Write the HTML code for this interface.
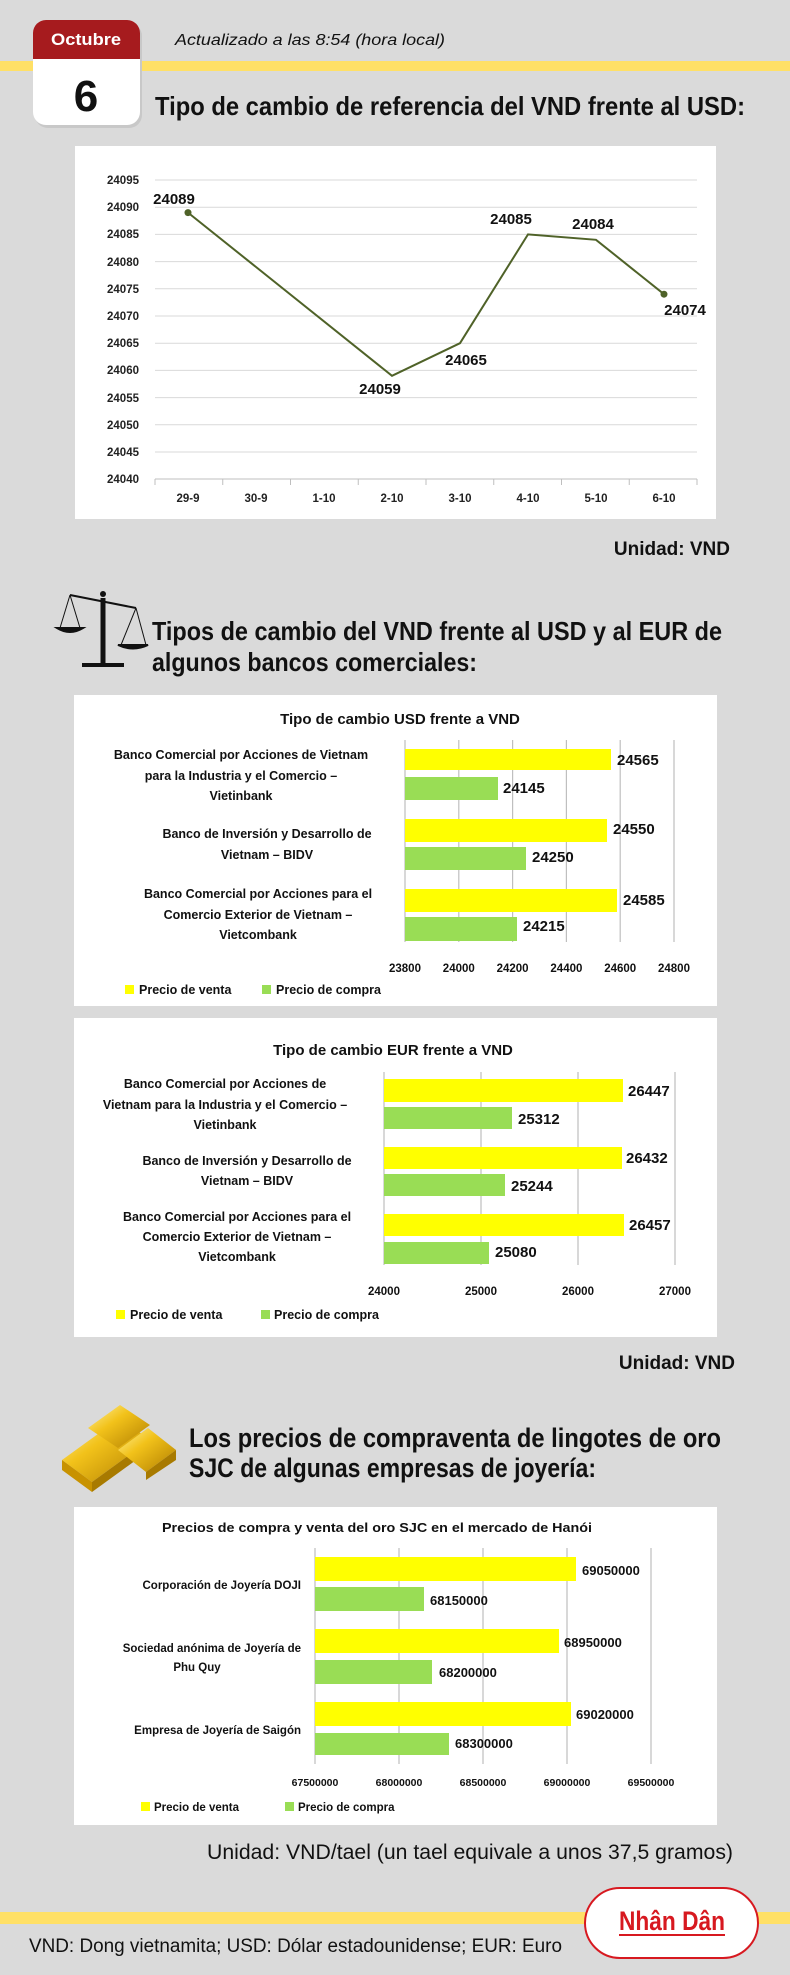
<!DOCTYPE html>
<html><head><meta charset="utf-8"><style>
html,body{margin:0;padding:0;background:#dadada;}
svg{display:block;}
text{font-family:"Liberation Sans",sans-serif;}
</style></head><body>
<svg width="790" height="1975" viewBox="0 0 790 1975" xmlns="http://www.w3.org/2000/svg">
<defs>
<linearGradient id="gold" x1="0" y1="0" x2="1" y2="1">
<stop offset="0" stop-color="#fff2a0"/><stop offset="0.4" stop-color="#f2c21a"/><stop offset="1" stop-color="#b07d00"/></linearGradient>
</defs>
<rect width="790" height="1975" fill="#dadada"/>
<!-- top band -->
<rect x="0" y="61" width="790" height="10" fill="#ffe066"/>
<!-- calendar -->
<rect x="35" y="23" width="107" height="105" rx="13" fill="#c8c8c8"/>
<rect x="33" y="20" width="107" height="105" rx="13" fill="#ffffff"/>
<path d="M33,59 V33 a13,13 0 0 1 13,-13 H127 a13,13 0 0 1 13,13 V59 Z" fill="#a61b1e"/>
<text x="86" y="45" font-size="17" font-weight="bold" fill="#fff" text-anchor="middle" textLength="70" lengthAdjust="spacingAndGlyphs">Octubre</text>
<text x="86" y="111" font-size="44" font-weight="bold" fill="#111" text-anchor="middle">6</text>
<text x="175" y="45" font-size="16" font-style="italic" fill="#111" textLength="270" lengthAdjust="spacingAndGlyphs">Actualizado a las 8:54 (hora local)</text>
<text x="155" y="115" font-size="26" font-weight="bold" fill="#111" textLength="590" lengthAdjust="spacingAndGlyphs">Tipo de cambio de referencia del VND frente al USD:</text>

<!-- line chart -->
<rect x="75" y="146" width="641" height="373" fill="#fff"/>
<g stroke="#d9d9d9" stroke-width="1">
<line x1="155" y1="180" x2="697" y2="180"/><line x1="155" y1="207.2" x2="697" y2="207.2"/><line x1="155" y1="234.4" x2="697" y2="234.4"/><line x1="155" y1="261.6" x2="697" y2="261.6"/><line x1="155" y1="288.8" x2="697" y2="288.8"/><line x1="155" y1="316" x2="697" y2="316"/><line x1="155" y1="343.2" x2="697" y2="343.2"/><line x1="155" y1="370.4" x2="697" y2="370.4"/><line x1="155" y1="397.6" x2="697" y2="397.6"/><line x1="155" y1="424.8" x2="697" y2="424.8"/><line x1="155" y1="452" x2="697" y2="452"/>
</g>
<g stroke="#bfbfbf" stroke-width="1">
<line x1="155" y1="479" x2="697" y2="479"/>
<line x1="155" y1="479" x2="155" y2="485"/><line x1="222.75" y1="479" x2="222.75" y2="485"/><line x1="290.5" y1="479" x2="290.5" y2="485"/><line x1="358.25" y1="479" x2="358.25" y2="485"/><line x1="426" y1="479" x2="426" y2="485"/><line x1="493.75" y1="479" x2="493.75" y2="485"/><line x1="561.5" y1="479" x2="561.5" y2="485"/><line x1="629.25" y1="479" x2="629.25" y2="485"/><line x1="697" y1="479" x2="697" y2="485"/>
</g>
<g font-size="11.5" font-weight="bold" fill="#222" text-anchor="end">
<text x="139" y="184">24095</text><text x="139" y="211">24090</text><text x="139" y="238">24085</text><text x="139" y="266">24080</text><text x="139" y="293">24075</text><text x="139" y="320">24070</text><text x="139" y="347">24065</text><text x="139" y="374">24060</text><text x="139" y="402">24055</text><text x="139" y="429">24050</text><text x="139" y="456">24045</text><text x="139" y="483">24040</text>
</g>
<g font-size="11.5" font-weight="bold" fill="#222" text-anchor="middle">
<text x="188" y="502">29-9</text><text x="256" y="502">30-9</text><text x="324" y="502">1-10</text><text x="392" y="502">2-10</text><text x="460" y="502">3-10</text><text x="528" y="502">4-10</text><text x="596" y="502">5-10</text><text x="664" y="502">6-10</text>
</g>
<polyline points="188,212.6 392,375.8 460,343.2 528,234.4 596,239.8 664,294.2" fill="none" stroke="#4f6228" stroke-width="2"/>
<circle cx="188" cy="212.6" r="3.5" fill="#4f6228"/><circle cx="664" cy="294.2" r="3.5" fill="#4f6228"/>
<g font-size="15" font-weight="bold" fill="#111" text-anchor="middle">
<text x="174" y="204">24089</text><text x="380" y="394">24059</text><text x="466" y="365">24065</text><text x="511" y="224">24085</text><text x="593" y="229">24084</text><text x="685" y="315">24074</text>
</g>
<text x="730" y="555" font-size="19" font-weight="bold" fill="#111" text-anchor="end">Unidad: VND</text>

<!-- scale icon -->
<g stroke="#111" fill="none" stroke-width="2">
<line x1="70" y1="595" x2="136" y2="608"/>
<line x1="103" y1="598" x2="103" y2="665" stroke-width="5"/>
<path d="M82,665 H124" stroke-width="4"/>
<path d="M70,595 L60,628 M70,595 L80,628" stroke-width="1"/>
<path d="M57,628 Q70,636 83,628 Z" fill="#111"/>
<path d="M136,608 L121,645 M136,608 L146,645" stroke-width="1"/>
<path d="M118,645 Q133,652 148,645 Z" fill="#111"/>
</g>
<circle cx="103" cy="594" r="3" fill="#111"/>
<text x="152" y="640" font-size="26" font-weight="bold" fill="#111" textLength="570" lengthAdjust="spacingAndGlyphs">Tipos de cambio del VND frente al USD y al EUR de</text>
<text x="152" y="671" font-size="26" font-weight="bold" fill="#111" textLength="325" lengthAdjust="spacingAndGlyphs">algunos bancos comerciales:</text>

<!-- USD bar chart -->
<rect x="74" y="695" width="643" height="311" fill="#fff"/>
<text x="400" y="724" font-size="15" font-weight="bold" fill="#111" text-anchor="middle">Tipo de cambio USD frente a VND</text>
<g stroke="#bfbfbf" stroke-width="1.2">
<line x1="405" y1="740" x2="405" y2="942"/><line x1="458.8" y1="740" x2="458.8" y2="942"/><line x1="512.6" y1="740" x2="512.6" y2="942"/><line x1="566.4" y1="740" x2="566.4" y2="942"/><line x1="620.2" y1="740" x2="620.2" y2="942"/><line x1="674" y1="740" x2="674" y2="942"/>
</g>
<g fill="#ffff00">
<rect x="405" y="749" width="206" height="21"/><rect x="405" y="819" width="202" height="23"/><rect x="405" y="889" width="212" height="23"/>
</g>
<g fill="#99dd55">
<rect x="405" y="777" width="93" height="23"/><rect x="405" y="847" width="121" height="23"/><rect x="405" y="917" width="112" height="24"/>
</g>
<g font-size="15" font-weight="bold" fill="#111">
<text x="617" y="765">24565</text><text x="503" y="793">24145</text><text x="613" y="834">24550</text><text x="532" y="862">24250</text><text x="623" y="905">24585</text><text x="523" y="931">24215</text>
</g>
<g font-size="12.5" font-weight="bold" fill="#111" text-anchor="middle">
<text x="241" y="759">Banco Comercial por Acciones de Vietnam</text>
<text x="241" y="780">para la Industria y el Comercio –</text>
<text x="241" y="800">Vietinbank</text>
<text x="267" y="838">Banco de Inversión y Desarrollo de</text>
<text x="267" y="859">Vietnam – BIDV</text>
<text x="258" y="898">Banco Comercial por Acciones para el</text>
<text x="258" y="919">Comercio Exterior de Vietnam –</text>
<text x="258" y="939">Vietcombank</text>
</g>
<g font-size="11.5" font-weight="bold" fill="#111" text-anchor="middle">
<text x="405" y="972">23800</text><text x="458.8" y="972">24000</text><text x="512.6" y="972">24200</text><text x="566.4" y="972">24400</text><text x="620.2" y="972">24600</text><text x="674" y="972">24800</text>
</g>
<rect x="125" y="985" width="9" height="9" fill="#ffff00"/>
<text x="139" y="994" font-size="12.5" font-weight="bold" fill="#111">Precio de venta</text>
<rect x="262" y="985" width="9" height="9" fill="#99dd55"/>
<text x="276" y="994" font-size="12.5" font-weight="bold" fill="#111">Precio de compra</text>

<!-- EUR bar chart -->
<rect x="74" y="1018" width="643" height="319" fill="#fff"/>
<text x="393" y="1055" font-size="15" font-weight="bold" fill="#111" text-anchor="middle">Tipo de cambio EUR frente a VND</text>
<g stroke="#bfbfbf" stroke-width="1.2">
<line x1="384" y1="1072" x2="384" y2="1265"/><line x1="481" y1="1072" x2="481" y2="1265"/><line x1="578" y1="1072" x2="578" y2="1265"/><line x1="675" y1="1072" x2="675" y2="1265"/>
</g>
<g fill="#ffff00">
<rect x="384" y="1079" width="239" height="23"/><rect x="384" y="1147" width="238" height="22"/><rect x="384" y="1214" width="240" height="22"/>
</g>
<g fill="#99dd55">
<rect x="384" y="1107" width="128" height="22"/><rect x="384" y="1174" width="121" height="22"/><rect x="384" y="1242" width="105" height="22"/>
</g>
<g font-size="15" font-weight="bold" fill="#111">
<text x="628" y="1096">26447</text><text x="518" y="1124">25312</text><text x="626" y="1163">26432</text><text x="511" y="1191">25244</text><text x="629" y="1230">26457</text><text x="495" y="1257">25080</text>
</g>
<g font-size="12.5" font-weight="bold" fill="#111" text-anchor="middle">
<text x="225" y="1088">Banco Comercial por Acciones de</text>
<text x="225" y="1109">Vietnam para la Industria y el Comercio –</text>
<text x="225" y="1129">Vietinbank</text>
<text x="247" y="1165">Banco de Inversión y Desarrollo de</text>
<text x="247" y="1185">Vietnam – BIDV</text>
<text x="237" y="1221">Banco Comercial por Acciones para el</text>
<text x="237" y="1241">Comercio Exterior de Vietnam –</text>
<text x="237" y="1261">Vietcombank</text>
</g>
<g font-size="11.5" font-weight="bold" fill="#111" text-anchor="middle">
<text x="384" y="1295">24000</text><text x="481" y="1295">25000</text><text x="578" y="1295">26000</text><text x="675" y="1295">27000</text>
</g>
<rect x="116" y="1310" width="9" height="9" fill="#ffff00"/>
<text x="130" y="1319" font-size="12.5" font-weight="bold" fill="#111">Precio de venta</text>
<rect x="261" y="1310" width="9" height="9" fill="#99dd55"/>
<text x="274" y="1319" font-size="12.5" font-weight="bold" fill="#111">Precio de compra</text>
<text x="735" y="1369" font-size="19" font-weight="bold" fill="#111" text-anchor="end">Unidad: VND</text>

<!-- gold icon -->
<g>
<polygon points="62,1460 120,1418 150,1440 92,1482" fill="url(#gold)"/>
<polygon points="62,1460 92,1482 92,1492 62,1470" fill="#c89200"/>
<polygon points="92,1482 150,1440 150,1450 92,1492" fill="#a87a00"/>
<polygon points="118,1450 148,1428 176,1450 146,1472" fill="url(#gold)"/>
<polygon points="146,1472 176,1450 176,1460 146,1480" fill="#a87a00"/>
<polygon points="88,1428 120,1405 150,1425 118,1448" fill="url(#gold)"/>
</g>
<text x="189" y="1447" font-size="27" font-weight="bold" fill="#111" textLength="532" lengthAdjust="spacingAndGlyphs">Los precios de compraventa de lingotes de oro</text>
<text x="189" y="1477" font-size="27" font-weight="bold" fill="#111" textLength="407" lengthAdjust="spacingAndGlyphs">SJC de algunas empresas de joyería:</text>

<!-- gold chart -->
<rect x="74" y="1507" width="643" height="318" fill="#fff"/>
<text x="377" y="1532" font-size="12.5" font-weight="bold" fill="#111" text-anchor="middle" textLength="430" lengthAdjust="spacingAndGlyphs">Precios de compra y venta del oro SJC en el mercado de Hanói</text>
<g stroke="#bfbfbf" stroke-width="1.2">
<line x1="315" y1="1548" x2="315" y2="1764"/><line x1="399" y1="1548" x2="399" y2="1764"/><line x1="483" y1="1548" x2="483" y2="1764"/><line x1="567" y1="1548" x2="567" y2="1764"/><line x1="651" y1="1548" x2="651" y2="1764"/>
</g>
<g fill="#ffff00">
<rect x="315" y="1557" width="261" height="24"/><rect x="315" y="1629" width="244" height="24"/><rect x="315" y="1702" width="256" height="24"/>
</g>
<g fill="#99dd55">
<rect x="315" y="1587" width="109" height="24"/><rect x="315" y="1660" width="117" height="24"/><rect x="315" y="1733" width="134" height="22"/>
</g>
<g font-size="13" font-weight="bold" fill="#111">
<text x="582" y="1575">69050000</text><text x="430" y="1605">68150000</text><text x="564" y="1647">68950000</text><text x="439" y="1677">68200000</text><text x="576" y="1719">69020000</text><text x="455" y="1748">68300000</text>
</g>
<g font-size="11.5" font-weight="bold" fill="#111" text-anchor="end">
<text x="301" y="1589">Corporación de Joyería DOJI</text>
<text x="301" y="1652">Sociedad anónima de Joyería de</text>
<text x="301" y="1734">Empresa de Joyería de Saigón</text>
</g>
<text x="197" y="1671" font-size="11.5" font-weight="bold" fill="#111" text-anchor="middle">Phu Quy</text>
<g font-size="10.5" font-weight="bold" fill="#111" text-anchor="middle">
<text x="315" y="1786">67500000</text><text x="399" y="1786">68000000</text><text x="483" y="1786">68500000</text><text x="567" y="1786">69000000</text><text x="651" y="1786">69500000</text>
</g>
<rect x="141" y="1802" width="9" height="9" fill="#ffff00"/>
<text x="154" y="1811" font-size="11.5" font-weight="bold" fill="#111">Precio de venta</text>
<rect x="285" y="1802" width="9" height="9" fill="#99dd55"/>
<text x="298" y="1811" font-size="11.5" font-weight="bold" fill="#111">Precio de compra</text>
<text x="207" y="1859" font-size="21" fill="#111" textLength="526" lengthAdjust="spacingAndGlyphs">Unidad: VND/tael (un tael equivale a unos 37,5 gramos)</text>

<!-- footer -->
<rect x="0" y="1912" width="790" height="12" fill="#ffe066"/>
<text x="29" y="1952" font-size="19" fill="#111" textLength="533" lengthAdjust="spacingAndGlyphs">VND: Dong vietnamita; USD: Dólar estadounidense; EUR: Euro</text>
<rect x="585" y="1888" width="173" height="70" rx="35" fill="#fff" stroke="#d71920" stroke-width="2"/>
<text x="672" y="1930" font-size="27" font-weight="bold" fill="#d71920" text-anchor="middle" textLength="106" lengthAdjust="spacingAndGlyphs">Nhân Dân</text>
<line x1="619" y1="1935" x2="725" y2="1935" stroke="#d71920" stroke-width="2"/>
</svg>
</body></html>
